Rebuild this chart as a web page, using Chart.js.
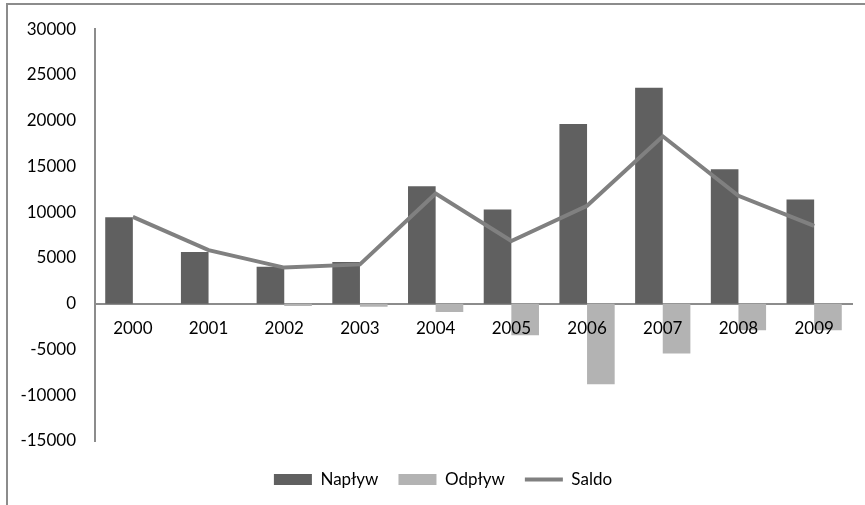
<!DOCTYPE html>
<html>
<head>
<meta charset="utf-8">
<script src="https://cdn.jsdelivr.net/npm/chart.js@4.4.1/dist/chart.umd.min.js"></script>
<style>
  html, body { margin: 0; padding: 0; background: #fff; }
  #wrap { position: relative; width: 865px; height: 505px; overflow: hidden; }
  #frame { position: absolute; left: 6px; top: 3px; width: 900px; height: 600px;
           border-top: 2px solid #8c8c8c; border-left: 2px solid #8c8c8c; }
  canvas { position: absolute; left: 0; top: 0; }
</style>
</head>
<body>
<div id="wrap">
  <div id="frame"></div>
  <canvas id="chart" width="865" height="505"></canvas>
</div>
<script>
const years = ["2000", "2001", "2002", "2003", "2004", "2005", "2006", "2007", "2008", "2009"];
const naplyw = [9450, 5650, 4050, 4550, 12850, 10300, 19650, 23600, 14700, 11400];
const odplyw = [0, 0, -250, -330, -900, -3450, -8800, -5450, -2900, -2900];
const saldo = [9500, 5850, 3950, 4300, 12050, 6850, 10700, 18300, 11800, 8500];
const yTicks = [30000, 25000, 20000, 15000, 10000, 5000, 0, -5000, -10000, -15000];

const FONT = "Lato";
const axisColor = "#8c8c8c";

// legend sits a bit right of the canvas centre in the original
const shiftLegend = {
  id: "shiftLegend",
  afterLayout(chart) {
    chart.legend.left = 34;
  },
};

const ctx = document.getElementById("chart").getContext("2d");
new Chart(ctx, {
  type: "bar",
  data: {
    labels: years,
    datasets: [
      {
        label: "Napływ",
        data: naplyw,
        backgroundColor: "#606060",
        pointStyle: "rect",
        order: 1,
        categoryPercentage: 0.73,
        barPercentage: 1.0,
      },
      {
        label: "Odpływ",
        data: odplyw,
        backgroundColor: "#b3b3b3",
        pointStyle: "rect",
        order: 1,
        categoryPercentage: 0.73,
        barPercentage: 1.0,
      },
      {
        type: "line",
        label: "Saldo",
        data: saldo,
        borderColor: "#808080",
        backgroundColor: "#808080",
        borderWidth: 4,
        pointRadius: 0,
        pointStyle: "line",
        tension: 0,
        order: 0,
      },
    ],
  },
  plugins: [shiftLegend],
  options: {
    responsive: false,
    animation: false,
    layout: { padding: { left: 0, right: 13, top: 22, bottom: 7 } },
    plugins: {
      tooltip: { enabled: false },
      legend: {
        position: "bottom",
        title: { display: true, text: "", font: { size: 10, lineHeight: 1 }, padding: 0 },
        labels: {
          usePointStyle: true,
          pointStyleWidth: 38,
          boxHeight: 11,
          padding: 20,
          color: "#000",
          font: { family: FONT, size: 17 },
          sort: (a, b) => a.datasetIndex - b.datasetIndex,
        },
      },
    },
    scales: {
      x: {
        position: { y: 0 },
        grid: { display: false, drawTicks: false },
        border: { display: true, color: axisColor, width: 2 },
        ticks: { z: 1, color: "#000", font: { family: FONT, size: 17 }, padding: 15, maxRotation: 0 },
      },
      y: {
        min: -15000,
        max: 30000,
        afterFit: (s) => { s.width = 95; },
        afterBuildTicks: (s) => { s.ticks = yTicks.map((v) => ({ value: v })); },
        grid: { display: false, drawTicks: false },
        border: { display: true, color: axisColor, width: 2 },
        ticks: {
          color: "#000",
          font: { family: FONT, size: 17 },
          padding: 19,
          callback: (v) => String(v),
        },
      },
    },
  },
});
</script>
</body>
</html>
